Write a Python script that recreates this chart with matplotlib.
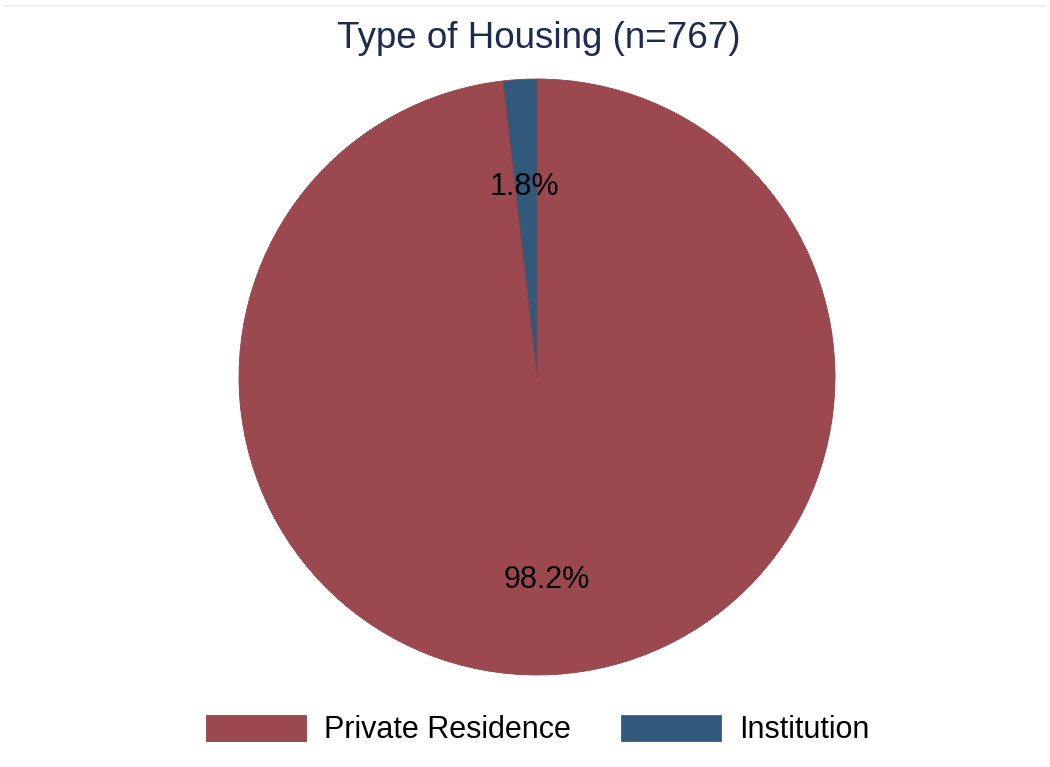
import matplotlib
matplotlib.use('Agg')
import matplotlib.pyplot as plt
from matplotlib.lines import Line2D

# housing type counts (n=767)
labels = ['Private Residence', 'Institution']
counts = [753, 14]
colors = ['#9b494e', '#30597c']

plt.rcParams['font.family'] = ['Liberation Sans', 'DejaVu Sans']

fig = plt.figure(figsize=(10.5, 7.67), dpi=100)
fig.patch.set_facecolor('white')

# thin frame line at the top of the graph region
fig.add_artist(Line2D([5 / 1050, 1045 / 1050], [761 / 767, 761 / 767],
                      color='#e6ecf0', linewidth=1.2))

# square axes for the pie: centre (537, 377) px, radius 298 px
ax = fig.add_axes([239 / 1050, 92 / 767, 596 / 1050, 596 / 767])
wedges, texts, autotexts = ax.pie(
    counts, colors=colors, startangle=90, counterclock=False,
    autopct='%1.1f%%', pctdistance=0.66,
    wedgeprops={'linewidth': 0.6, 'edgecolor': '#8e4248'},
    textprops={'fontsize': 22, 'color': 'black'})
# nudge the percentage labels down a little
for t in autotexts:
    x, y = t.get_position()
    t.set_position((x - 0.004, y - 0.022))
ax.set_xlim(-1, 1)
ax.set_ylim(-1, 1)
ax.set_aspect('equal')
ax.axis('off')

fig.text(538.5 / 1050, 1 - 39 / 767, 'Type of Housing (n=767)', ha='center', va='center',
         fontsize=26.5, color='#1c2b52')

fig.legend(wedges, labels, loc='center', bbox_to_anchor=(537.5 / 1050, 1 - 730 / 767),
           ncol=2, frameon=False, fontsize=22, handlelength=3.27, handleheight=0.95,
           handletextpad=0.59, columnspacing=1.64)

fig.savefig('out.png', dpi=100)
